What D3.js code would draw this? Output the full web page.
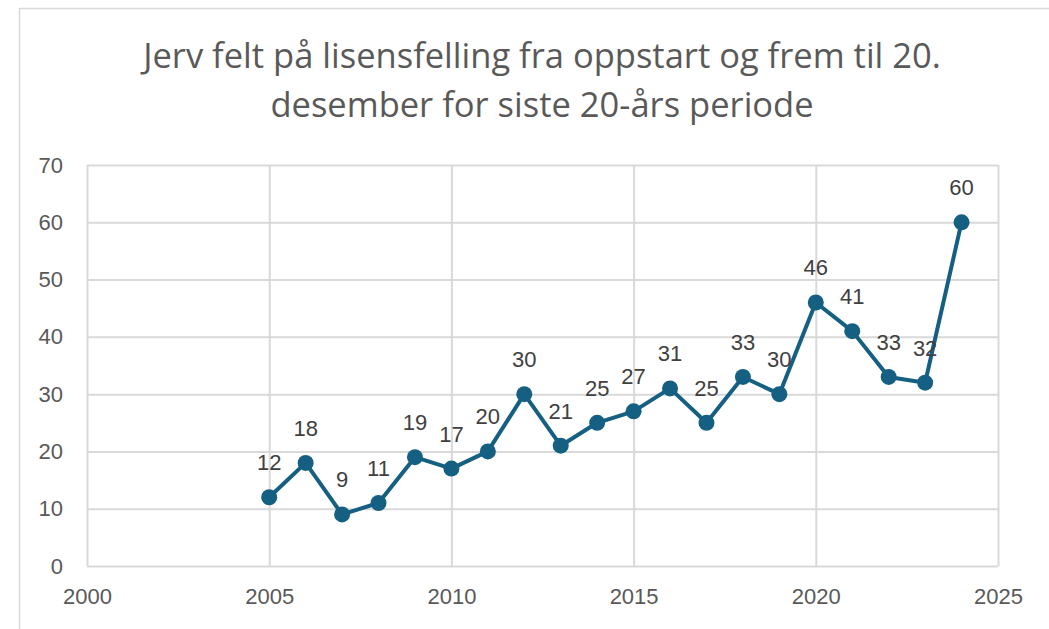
<!DOCTYPE html>
<html>
<head>
<meta charset="utf-8">
<script src="https://cdn.jsdelivr.net/npm/d3@7"></script>
<style>
  body { margin: 0; background: #fff; }
  svg text { font-family: "Liberation Sans", Arial, sans-serif; }
  .axis path { display: none; }
  .axis line { stroke: #d9d9d9; stroke-width: 2; }
  .axis text { fill: #595959; font-size: 22px; }
</style>
</head>
<body>
<div id="chart"></div>
<script>
// Data
const titleLines = ["Jerv felt på lisensfelling fra oppstart og frem til 20.", "desember for siste 20-års periode"];
const years = [2005, 2006, 2007, 2008, 2009, 2010, 2011, 2012, 2013, 2014, 2015, 2016, 2017, 2018, 2019, 2020, 2021, 2022, 2023, 2024];
const felt = [12, 18, 9, 11, 19, 17, 20, 30, 21, 25, 27, 31, 25, 33, 30, 46, 41, 33, 32, 60];
const xTicks = [2000, 2005, 2010, 2015, 2020, 2025];
const yTicks = [0, 10, 20, 30, 40, 50, 60, 70];

const width = 1049, height = 629;
const margin = { top: 165, right: 51, bottom: 63, left: 87 };

const svg = d3.select("#chart").append("svg")
    .attr("width", width)
    .attr("height", height);

// Ramme rundt diagrammet
svg.append("rect")
    .attr("x", 19.5).attr("y", 8.5)
    .attr("width", 1040).attr("height", 640)
    .attr("fill", "none")
    .attr("stroke", "#d9d9d9")
    .attr("stroke-width", 1.5);

// Tittel
svg.append("g").selectAll("text")
    .data(titleLines)
    .enter().append("text")
    .attr("x", 542)
    .attr("y", (d, i) => 68 + i * 49)
    .attr("text-anchor", "middle")
    .style("font-family", "'Open Sans', sans-serif")
    .style("font-size", "34.5px")
    .attr("fill", "#595959")
    .text(d => d);

// Skalaer
const x = d3.scaleLinear().domain([2000, 2025]).range([margin.left, width - margin.right]);
const y = d3.scaleLinear().domain([0, 70]).range([height - margin.bottom, margin.top]);

// Rutenett + akser
svg.append("g")
    .attr("class", "axis")
    .attr("transform", `translate(0,${y(0)})`)
    .call(d3.axisBottom(x).tickValues(xTicks).tickFormat(d3.format("d"))
        .tickSize(-(y(0) - y(70))).tickPadding(22))
    .selectAll("text").attr("dy", "0.71em");

svg.append("g")
    .attr("class", "axis")
    .attr("transform", `translate(${x(2000)},0)`)
    .call(d3.axisLeft(y).tickValues(yTicks)
        .tickSize(-(x(2025) - x(2000))).tickPadding(24));

// Linje
const line = d3.line()
    .x((d, i) => x(years[i]))
    .y(d => y(d));

svg.append("path")
    .datum(felt)
    .attr("d", line)
    .attr("fill", "none")
    .attr("stroke", "#156082")
    .attr("stroke-width", 4)
    .attr("stroke-linejoin", "round");

// Punkter
svg.append("g").selectAll("circle")
    .data(felt)
    .enter().append("circle")
    .attr("cx", (d, i) => x(years[i]))
    .attr("cy", d => y(d))
    .attr("r", 8)
    .attr("fill", "#156082");

// Dataetiketter
svg.append("g").selectAll("text")
    .data(felt)
    .enter().append("text")
    .attr("x", (d, i) => x(years[i]))
    .attr("y", d => y(d) - 27)
    .attr("text-anchor", "middle")
    .style("font-size", "22px")
    .attr("fill", "#404040")
    .text(d => d);
</script>
</body>
</html>
